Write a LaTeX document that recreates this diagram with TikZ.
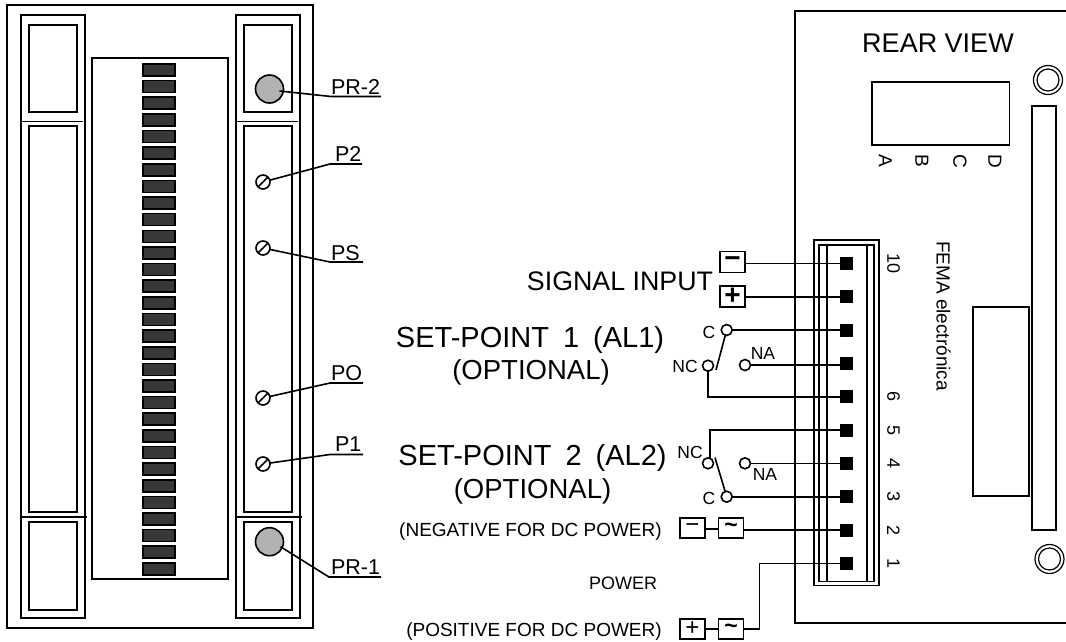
\documentclass[tikz,border=0pt]{standalone}
\usepackage{fontspec}
\setmainfont{Liberation Sans}
\newcommand{\fs}[1]{\fontsize{#1}{#1}\selectfont}
\newcommand{\tld}{\char`\~}
\tikzset{
  x=1pt,y=-1pt,
  ln/.style={line width=1.6pt,draw=black,line join=miter},
  bar/.style={ln,fill=black!78,minimum width=32pt,minimum height=12pt,inner sep=0pt,outer sep=0pt},
  knob/.style={circle,ln,fill=black!30,minimum size=28pt,inner sep=0pt,outer sep=0pt},
  screw/.style={circle,ln,minimum size=14pt,inner sep=0pt,outer sep=0pt},
  term/.style={fill=black,minimum size=13pt,inner sep=0pt,outer sep=0pt},
  contact/.style={circle,ln,fill=white,minimum size=11pt,inner sep=0pt,outer sep=0pt},
  sbox/.style={ln,line width=1.8pt,minimum width=25pt,minimum height=21pt,inner sep=0pt,outer sep=0pt,font=\fs{28}\bfseries},
  pbox/.style={ln,line width=1.8pt,minimum width=25pt,minimum height=20pt,inner sep=0pt,outer sep=0pt,font=\fs{24}},
  lab/.style={inner sep=0pt,outer sep=0pt,anchor=base west},
  big/.style={inner sep=0pt,outer sep=0pt,font=\fs{27.5},anchor=base},
  setp/.style={big,font=\fs{29}},
  small/.style={inner sep=0pt,outer sep=0pt,font=\fs{19},anchor=base east},
  rot/.style={rotate=-90,inner sep=0pt,outer sep=0pt},
}
\begin{document}
\begin{tikzpicture}
\useasboundingbox (0,0) rectangle (1066,641);
% left unit
\draw[ln] (7,5) rectangle (313,628);
\draw[ln] (21,15) rectangle (85,618);
\draw[ln] (236,15) rectangle (300,618);
\draw[ln] (21,121.5) -- (83,121.5);
\draw[ln] (236,121.5) -- (298,121.5);
\draw[ln] (21,517) -- (87,517);
\draw[ln] (236,517) -- (302,517);
\draw[ln] (29,25) rectangle (77,112);
\draw[ln] (29,126) rectangle (77,512);
\draw[ln] (29,522) rectangle (77,610);
\draw[ln] (244,25) rectangle (292,112);
\draw[ln] (244,126) rectangle (292,512);
\draw[ln] (244,522) rectangle (292,610);
\draw[ln] (92,58) rectangle (228,579);
\foreach \i in {0,...,30}{
  \node[bar] (bar\i) at (159,{70+16.63*\i}) {};
}
% knobs and screws
\node[knob] (pr2) at (269.5,89) {};
\node[knob] (pr1) at (269.5,541.7) {};
\node[screw] (p2) at (263,182) {};
\node[screw] (ps) at (263,248) {};
\node[screw] (po) at (263,398) {};
\node[screw] (p1) at (263,464) {};
\foreach \n/\a in {p2/45,ps/45,po/45,p1/45}{
  \draw[ln] (\n.\a) -- (\n.{\a+180});
}
\coordinate (pr2a) at (331,96.5);
\coordinate (pr2b) at (381,96.5);
\coordinate (p2a) at (330,164);
\coordinate (p2b) at (362,164);
\coordinate (psa) at (330,262);
\coordinate (psb) at (363,262);
\coordinate (poa) at (330,383);
\coordinate (pob) at (363,383);
\coordinate (p1a) at (330,454.5);
\coordinate (p1b) at (363,454.5);
\coordinate (pr1a) at (329,577);
\coordinate (pr1b) at (381,577);
\draw[ln] (pr2.center) ++(10,2) -- (pr2a) -- (pr2b);
\draw[ln] (p2) -- (p2a) -- (p2b);
\draw[ln] (ps) -- (psa) -- (psb);
\draw[ln] (po) -- (poa) -- (pob);
\draw[ln] (p1) -- (p1a) -- (p1b);
\draw[ln] (pr1.center) ++(11,5) -- (pr1a) -- (pr1b);
\begin{scope}[every node/.append style={lab,font=\fs{21.5}}]
\node (tpr2) at (331,94.5) {PR-2};
\node (tp2) at (335,161) {P2};
\node (tps) at (331,260) {PS};
\node (tpo) at (331,380) {PO};
\node (tp1) at (335,451.5) {P1};
\node (tpr1) at (331,574) {PR-1};
\end{scope}
% rear panel
\draw[ln] (1066,11) -- (795,11) -- (795,623) -- (1066,623);
\node[big,font=\fs{27}] (rear) at (938,52) {REAR VIEW};
\draw[ln] (872,82) rectangle (1009.5,145);
\foreach \t/\x in {A/885.5,B/922,C/960,D/995}{
  \node[rot,font=\fs{19}] (l\t) at (\x,161) {\t};
}
\draw[ln] (1032,106) rectangle (1056,530);
\draw[ln,line width=1.2pt] (1048,80) circle (14.5) (1048,80) circle (11);
\draw[ln,line width=1.2pt] (1049.5,559) circle (14.5) (1049.5,559) circle (11);
\draw[ln] (973,307) rectangle (1029,496);
\node[rot,font=\fs{19},anchor=base west] (fema) at (936.5,241) {FEMA electrónica};
% connector
\draw[ln,line width=1.2pt] (814,240) rectangle (879,585.7);
\draw[ln,line width=1.2pt] (819,245) rectangle (874,581.7);
\draw[ln] (826.7,245) -- (826.7,581.7);
\draw[ln] (866.7,245) -- (866.7,581.7);
\foreach \i/\y in {10/263.3,9/296.7,8/330,7/363.3,6/396.7,5/430,4/463.3,3/496.7,2/530,1/563.3}{
  \node[term] (t\i) at (846.5,\y) {};
}
\foreach \i/\y in {10/263.3,6/396.7,5/430,4/463.3,3/496.7,2/530,1/563.3}{
  \node[rot,font=\fs{18}] (n\i) at (893.5,\y) {\i};
}
% signal input
\node[sbox] (sm) at (732.5,262) {−};
\node[sbox] (sp) at (732.5,296.7) {+};
\draw[ln] (sm.east |- t10) -- (t10);
\draw[ln] (sp.east |- t9) -- (t9);
% AL1
\node[contact] (c1) at (726.7,330) {};
\node[contact] (nc1) at (708,365.7) {};
\node[contact] (na1) at (745,365) {};
\draw[ln] (c1) -- (t8);
\draw[ln] (na1) -- (na1 -| t7) -- (t7);
\draw[ln] (nc1) |- (t6);
\coordinate (sw1) at (716,370);
\draw[ln] (c1) -- (sw1);
\node[inner sep=0pt,font=\fs{17.5}] (lc1) at (709,332) {C};
\node[inner sep=0pt,font=\fs{17.5}] (lnc1) at (685,366) {NC};
\node[inner sep=0pt,font=\fs{17.5}] (lna1) at (763,353) {NA};
% AL2
\node[contact] (c2) at (726.7,496.7) {};
\node[contact] (nc2) at (708,463.3) {};
\node[contact] (na2) at (745,463.3) {};
\coordinate (j2) at (710,430);
\draw[ln] (nc2.north -| j2) -- (j2) -- (t5);
\draw[ln] (na2) -- (t4);
\draw[ln] (c2) -- (t3);
\coordinate (sw2) at (715,457.7);
\draw[ln] (c2) -- (sw2);
\node[inner sep=0pt,font=\fs{17.5}] (lc2) at (709,498) {C};
\node[inner sep=0pt,font=\fs{17.5}] (lnc2) at (690,452) {NC};
\node[inner sep=0pt,font=\fs{17.5}] (lna2) at (765,474) {NA};
% power
\node[pbox] (pm) at (692.5,527.7) {−};
\node[pbox,font=\fs{23}\bfseries] (pt1) at (731,527.7) {\tld};
\node[pbox] (pp) at (692.5,629) {+};
\node[pbox,font=\fs{23}\bfseries] (pt2) at (731,629) {\tld};
\draw[ln] (pm.east |- 0,529) -- (pt1.west |- 0,529);
\draw[ln] (pt1.east |- t2) -- (t2);
\draw[ln] (pp) -- (pt2);
\coordinate (pw) at (759.3,629);
\draw[ln] (pt2) -- (pw) |- (t1);
% texts
\node[big,font=\fs{26.8}] (tsig) at (620,290) {SIGNAL INPUT};
\node[setp] (tal1) at (530,347) {SET-POINT\hspace{14pt}1\hspace{14pt}(AL1)};
\node[big] (topt1) at (531,379) {(OPTIONAL)};
\node[setp] (tal2) at (532.5,465) {SET-POINT\hspace{14pt}2\hspace{14pt}(AL2)};
\node[big] (topt2) at (532.5,498) {(OPTIONAL)};
\node[small] (tneg) at (661.7,536) {(NEGATIVE FOR DC POWER)};
\node[small,font=\fs{18}] (tpow) at (657,589) {POWER};
\node[small] (tpos) at (661.7,636.7) {(POSITIVE FOR DC POWER)};
\end{tikzpicture}
\end{document}
